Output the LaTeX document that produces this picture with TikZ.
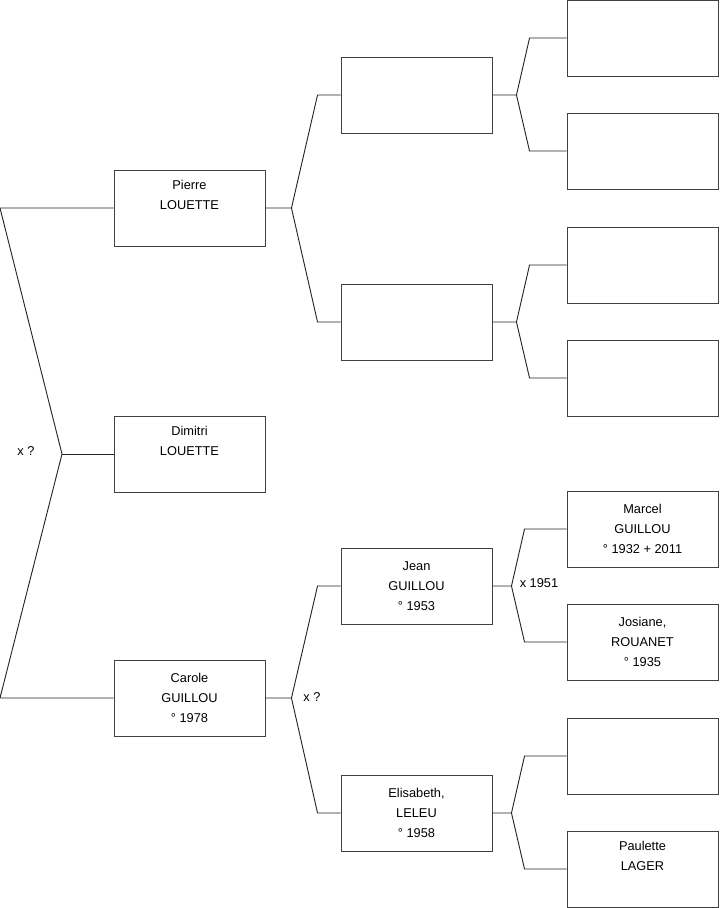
\documentclass[tikz,border=0pt]{standalone}
\usepackage{fontspec}
\setmainfont{Liberation Sans}
\usetikzlibrary{calc}

\tikzset{
  person/.style={draw=black!75, line width=0.7pt, minimum width=113.25pt, minimum height=57pt,
    inner sep=0pt, align=center, font=\fontsize{9.6}{15}\selectfont},
  link/.style={black!85, line width=0.7pt},
  union/.style={font=\fontsize{9.6}{11}\selectfont}
}

\begin{document}
\begin{tikzpicture}[x=0.75pt, y=-0.75pt]
    \useasboundingbox (0,0) rectangle (719,908);

    % generation 1
    \node[person] (pierre)  at (189.5,208) {Pierre\\LOUETTE\\\strut};
    \node[person] (dimitri) at (189.5,454) {Dimitri\\LOUETTE\\\strut};
    \node[person] (carole)  at (189.5,698) {Carole\\GUILLOU\\° 1978};

    % generation 2
    \node[person] (pp) at (416.5,95) {};
    \node[person] (pm) at (416.5,322) {};
    \node[person] (jean) at (416.5,586) {Jean\\GUILLOU\\° 1953};
    \node[person] (elisabeth) at (416.5,813) {Elisabeth,\\LELEU\\° 1958};

    % generation 3
    \node[person] (ppp) at (642.5,38) {};
    \node[person] (ppm) at (642.5,151) {};
    \node[person] (pmp) at (642.5,265) {};
    \node[person] (pmm) at (642.5,378) {};
    \node[person] (marcel) at (642.5,529) {Marcel\\GUILLOU\\° 1932 + 2011};
    \node[person] (josiane) at (642.5,642) {Josiane,\\ROUANET\\° 1935};
    \node[person] (emp) at (642.5,756) {};
    \node[person] (paulette) at (642.5,869) {Paulette\\LAGER\\\strut};

    % left bracket
    \coordinate (lp) at (0,208);
    \coordinate (lm) at (0,698);
    \coordinate (jd) at (62,454);
    \draw[link] (pierre.west) -- (lp) -- (jd) -- (lm) -- (carole.west);
    \draw[link] (jd) -- (dimitri.west);
    \node[union] (u1) at (26,451) {x ?};

    % parents
    \foreach \c/\f/\m/\s/\g in {pierre/pp/pm/26/23, carole/jean/elisabeth/26/23,
                                pp/ppp/ppm/24/37, pm/pmp/pmm/24/37,
                                jean/marcel/josiane/19/42, elisabeth/emp/paulette/19/42} {
        \draw[link] (\c.east) -- ++(\s,0) coordinate (j)
            -- ($(\f.west)+(-\g,0)$) -- (\f.west);
        \draw[link] (j) -- ($(\m.west)+(-\g,0)$) -- (\m.west);
    }

    \node[union] (u2) at (312,697) {x ?};
    \node[union] (u3) at (539,583) {x 1951};
\end{tikzpicture}
\end{document}
